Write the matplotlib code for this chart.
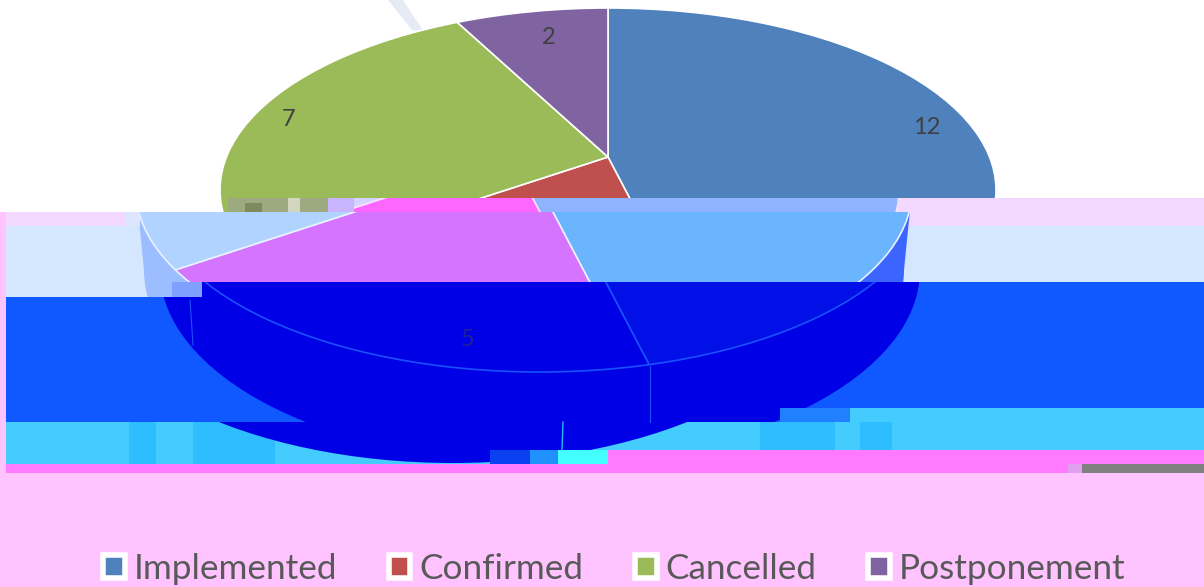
"""Corrupted 3D pie chart of change request outcomes."""

import matplotlib
matplotlib.use("Agg")
import matplotlib.pyplot as plt
from matplotlib.patches import Circle, Ellipse, Patch, Polygon, Rectangle
from matplotlib.transforms import Bbox

W, H = 1204, 587

categories = ["Implemented", "Confirmed", "Cancelled", "Postponement"]
values = [12, 5, 7, 2]
colors = ["#4F81BD", "#C0504D", "#9BBB59", "#8064A2"]

plt.rcParams["font.family"] = ["Lato", "DejaVu Sans"]

fig = plt.figure(figsize=(W / 100, H / 100), dpi=100, facecolor="white")


def pixel_axes(zorder):
    ax = fig.add_axes([0, 0, 1, 1], zorder=zorder)
    ax.set_xlim(0, W)
    ax.set_ylim(H, 0)
    ax.axis("off")
    return ax


bg = pixel_axes(0)
top = pixel_axes(20)


def block(ax, x0, y0, x1, y1, color):
    ax.add_patch(Rectangle((x0, y0), x1 - x0, y1 - y0, color=color, lw=0))


# background colour of each damaged band
block(bg, 0, 212, W, H, "#FFC4FF")
block(bg, 6, 212, W, 226, "#F2D8FF")
block(bg, 228, 198, W, 212, "#F2D8FF")
block(bg, 6, 226, W, 297, "#D5E6FF")
block(bg, 200, 282, W, 297, "#1058FF")
block(bg, 6, 297, W, 422, "#1058FF")
block(bg, 850, 408, W, 422, "#44CCFF")
block(bg, 6, 422, W, 464, "#44CCFF")
block(bg, 6, 464, W, 473, "#FF7AFF")
block(bg, 608, 450, W, 473, "#FF7AFF")
block(bg, 1082, 464, W, 473, "#808080")
bg.add_patch(Polygon([(388, 0), (403, 0), (424, 32), (412, 30)], color="#E6EAF4", lw=0))
for x0, x1 in [(129, 156), (193, 275), (760, 835), (860, 892)]:
    block(bg, x0, 422, x1, 464 if x1 < 608 else 450, "#2EBEFF")

RX, RY, CY, APEX = 388, 182, 190, 157
SIDE_RX, SIDE_RY, SIDE_CY = 380, 193, 270


def clip_box(rect):
    x0, y0, x1, y1 = rect
    return Bbox.from_extents(x0, H - y1, x1, H - y0)


def draw_side(cx, rect, left, right):
    for color, x0, x1 in [(left, rect[0], min(rect[2], cx)), (right, max(rect[0], cx), rect[2])]:
        if x1 <= x0:
            continue
        half = clip_box((x0, rect[1], x1, rect[3]))
        shapes = [
            Ellipse((cx, SIDE_CY), 2 * SIDE_RX, 2 * SIDE_RY, color=color, lw=0),
            Polygon([(cx - RX, CY), (cx + RX, CY), (cx + SIDE_RX, SIDE_CY), (cx - SIDE_RX, SIDE_CY)],
                    color=color, lw=0),
        ]
        for shape in shapes:
            bg.add_patch(shape)
            shape.set_clip_box(half)
            shape.set_zorder(3)


def draw_band(cx, rects, pie_colors, edge, side=None):
    """One damaged slice of the picture: same pie, own offset and colours."""
    ax = fig.add_axes([(cx - RX) / W, (H - CY - RY) / H, 2 * RX / W, 2 * RY / H], zorder=5)
    for i, rect in enumerate(rects):
        box = clip_box(rect)
        if side is not None:
            draw_side(cx, rect, *side)
        wedges, _ = ax.pie(
            values, colors=pie_colors, startangle=90, counterclock=False,
            center=(0, (CY - APEX) / RY), radius=5,
            wedgeprops=dict(edgecolor=edge, linewidth=1.2),
        )
        # agg caches the clip mask per path and transform, so vary it per rect
        disc = Circle((0, 0), 1 + i * 1e-5, transform=ax.transData)
        for w in wedges:
            w.set_clip_on(True)
            w.set_clip_path(disc)
            w.set_clip_box(box)
        ring = ax.add_patch(Circle((0, 0), 1, fill=False, edgecolor=edge, linewidth=1.2))
        ring.set_clip_box(box)
    ax.set_aspect("auto")
    ax.set_xlim(-1, 1)
    ax.set_ylim(-1, 1)
    ax.axis("off")
    ax.patch.set_visible(False)
    return ax


draw_band(608, [(0, 0, W, 198), (0, 198, 228, 212)], colors, "white")
draw_band(511, [(228, 198, W, 212)], ["#8FB3FF", "#FF66FF", "#D2D4FF", "#D2D4FF"], "#F8E0FF")
draw_band(524, [(125, 212, W, 226), (0, 226, W, 282), (0, 282, 200, 297)],
          ["#6BB5FF", "#D575FF", "#B0D4FF", "#B0D4FF"], "#E8F2FF", side=("#9CBDFF", "#3C64FF"))
draw_band(540, [(200, 282, W, 297), (6, 297, W, 408), (6, 408, 850, 422)],
          ["#0010E6", "#0000E6", "#0000E6", "#0000E6"], "#1A50FF", side=("#0000E6", "#0000E6"))
draw_band(453, [(850, 408, W, 422), (6, 422, W, 450), (6, 450, 608, 464)],
          ["#0000E6"] * 4, "#0000E6", side=("#0000E6", "#0000E6"))

# edges of the side wall and stray damaged blocks
top.plot([650, 650], [366, 422], color="#1A50FF", lw=0.8)
top.plot([190, 193], [300, 345], color="#1A50FF", lw=0.8)
top.plot([563, 562], [422, 450], color="#22BBFF", lw=1)
block(top, 228, 198, 328, 212, "#9DA97E")
block(top, 245, 203, 262, 212, "#7C8A5C")
block(top, 288, 198, 300, 212, "#D2D6BE")
block(top, 328, 198, 354, 212, "#C8B4FF")
block(top, 125, 212, 140, 226, "#DCE6FF")
block(top, 172, 282, 202, 297, "#7FA0FF")
block(top, 490, 450, 558, 464, "#0A40F0")
block(top, 530, 450, 558, 464, "#2090FF")
block(top, 558, 450, 608, 464, "#44FFFF")
block(top, 780, 408, 850, 422, "#2080FF")
block(top, 1068, 464, 1082, 473, "#E0A0F0")

# data labels
for value, x, y, c in [
    (values[0], 927, 128, "#404040"),
    (values[1], 468, 340, "#20209A"),
    (values[2], 289, 120, "#404040"),
    (values[3], 549, 38, "#404040"),
]:
    top.text(x, y, str(value), fontsize=17, color=c, ha="center", va="center")

handles = [Patch(facecolor=c, edgecolor="white", linewidth=4) for c in colors]
fig.legend(
    handles, categories, ncol=4, frameon=False, loc="center",
    bbox_to_anchor=(614 / W, 1 - 569 / H), fontsize=25.3, labelcolor="#595959",
    handlelength=0.62, handleheight=0.62, handletextpad=0.25, columnspacing=1.47,
    borderpad=0,
)

fig.savefig("out.png", dpi=100, facecolor="white")
